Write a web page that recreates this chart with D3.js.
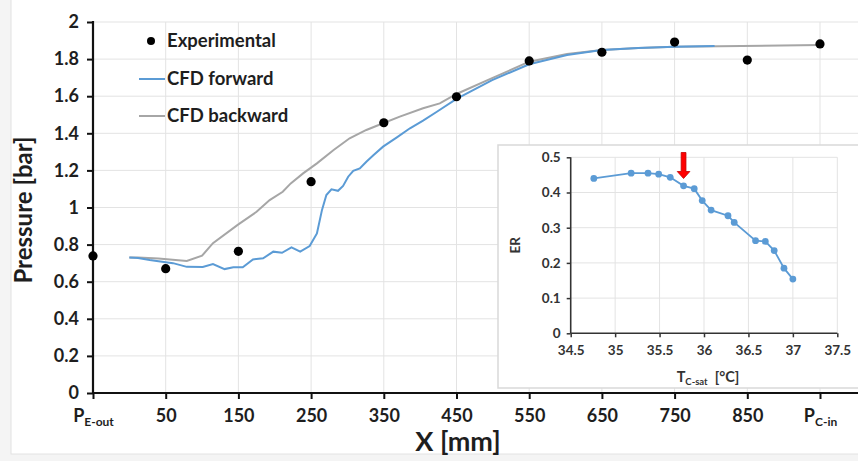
<!DOCTYPE html>
<html><head><meta charset="utf-8">
<script src="https://cdn.jsdelivr.net/npm/d3@7"></script>
<style>
html,body{margin:0;padding:0;background:#f4f4f4;}
svg{display:block;font-family:Lato,"Open Sans",sans-serif;font-weight:bold;}
</style></head>
<body>
<svg id="c" width="858" height="461"></svg>
<script>
// ---- data ----
const xTicks = [-50, 50, 150, 250, 350, 450, 550, 650, 750, 850, 950];
const yTicks = [0, 0.2, 0.4, 0.6, 0.8, 1, 1.2, 1.4, 1.6, 1.8, 2];
const expX = [-50, 50, 150, 250, 350, 450, 550, 650, 750, 850, 950];
const expY = [0.739, 0.67, 0.764, 1.139, 1.457, 1.597, 1.79, 1.837, 1.892, 1.795, 1.882];
const fwdX = [0, 12, 28, 45, 60, 79, 101, 115, 131, 143, 156, 170, 184, 198, 210, 223, 235, 248, 258, 265, 271, 278, 287, 294, 301, 308, 317, 326, 336, 349, 368, 386, 404, 423, 450, 499, 550, 602, 650, 700, 750, 805];
const fwdY = [0.73, 0.728, 0.717, 0.708, 0.70, 0.68, 0.679, 0.695, 0.668, 0.678, 0.678, 0.72, 0.726, 0.762, 0.756, 0.785, 0.762, 0.792, 0.86, 0.987, 1.067, 1.098, 1.09, 1.116, 1.166, 1.198, 1.211, 1.247, 1.283, 1.328, 1.378, 1.427, 1.468, 1.516, 1.585, 1.687, 1.772, 1.822, 1.849, 1.86, 1.867, 1.87];
const bwdX = [0, 12, 40, 79, 100, 115, 149, 175, 193, 211, 222, 239, 258, 281, 303, 326, 349, 372, 404, 427, 450, 499, 550, 602, 650, 700, 750, 950];
const bwdY = [0.731, 0.73, 0.725, 0.712, 0.74, 0.808, 0.906, 0.977, 1.04, 1.085, 1.13, 1.184, 1.238, 1.31, 1.373, 1.418, 1.454, 1.49, 1.535, 1.561, 1.612, 1.697, 1.786, 1.827, 1.849, 1.86, 1.867, 1.876];
const insetXTicks = [34.5, 35, 35.5, 36, 36.5, 37, 37.5];
const insetYTicks = [0, 0.1, 0.2, 0.3, 0.4, 0.5];
const erT = [34.76, 35.18, 35.37, 35.49, 35.62, 35.77, 35.89, 35.98, 36.08, 36.27, 36.34, 36.58, 36.69, 36.79, 36.90, 37.0];
const erV = [0.440, 0.455, 0.455, 0.452, 0.443, 0.419, 0.411, 0.377, 0.350, 0.334, 0.315, 0.263, 0.261, 0.235, 0.185, 0.154];
const arrowT = 35.77;
const legendLabels = ["Experimental", "CFD forward", "CFD backward"];

// ---- drawing ----
const svg = d3.select("#c");
const txt = "#1e1e1e";
const blue = "#5B9BD5", gray = "#A6A6A6", grid = "#e3e3e3";

svg.append("rect").attr("x", 11).attr("y", -1).attr("width", 860).attr("height", 455)
  .attr("fill", "#fff").attr("stroke", "#e2e2e2");

const x = d3.scaleLinear().domain([-50, 950]).range([93, 820]);
const y = d3.scaleLinear().domain([0, 2]).range([393, 22]);
const rightEdge = 870;

// gridlines
svg.append("g").selectAll("line").data(yTicks.filter(d => d > 0)).join("line")
  .attr("x1", x(-50)).attr("x2", rightEdge).attr("y1", d => y(d)).attr("y2", d => y(d))
  .attr("stroke", grid).attr("stroke-width", 1);
svg.append("g").selectAll("line").data(xTicks.filter(d => d > -50)).join("line")
  .attr("x1", d => x(d)).attr("x2", d => x(d)).attr("y1", y(0)).attr("y2", y(2))
  .attr("stroke", grid).attr("stroke-width", 1);

// axes
const yAxis = svg.append("g").attr("transform", `translate(${x(-50)},0)`)
  .call(d3.axisLeft(y).tickValues(yTicks).tickSize(6).tickPadding(8).tickFormat(d => d3.format("~g")(d)));
const xAxis = svg.append("g").attr("transform", `translate(0,${y(0)})`)
  .call(d3.axisBottom(x).tickValues(xTicks).tickSize(6).tickPadding(10).tickFormat(d => d));
[yAxis, xAxis].forEach(g => {
  g.select(".domain").remove();
  g.selectAll(".tick line").attr("stroke", "#111").attr("stroke-width", 2);
  g.selectAll("text").attr("fill", txt).attr("font-size", 18).attr("font-family", "Lato").attr("font-weight", "bold");
});
xAxis.selectAll(".tick text").each(function(d) {
  const t = d3.select(this);
  if (d === -50 || d === 950) {
    t.text(null);
    t.append("tspan").text("P");
    t.append("tspan").attr("font-size", 12).attr("dy", 4).text(d === -50 ? "E-out" : "C-in");
  }
});
svg.append("line").attr("x1", x(-50)).attr("x2", x(-50)).attr("y1", y(2) - 1).attr("y2", y(0) + 1)
  .attr("stroke", "#111").attr("stroke-width", 2.2);
svg.append("line").attr("x1", x(-50) - 1).attr("x2", rightEdge).attr("y1", y(0)).attr("y2", y(0))
  .attr("stroke", "#111").attr("stroke-width", 2.2);

// axis titles
svg.append("text").attr("x", 458).attr("y", 451).attr("text-anchor", "middle")
  .attr("font-size", 27).attr("fill", txt).text("X [mm]");
svg.append("text").attr("transform", "translate(32,210) rotate(-90)").attr("text-anchor", "middle")
  .attr("font-size", 24).attr("fill", txt).text("Pressure [bar]");

// lines
const line = d3.line().x(d => x(d[0])).y(d => y(d[1]));
svg.append("path").datum(bwdX.map((v, i) => [v, bwdY[i]])).attr("d", line)
  .attr("fill", "none").attr("stroke", gray).attr("stroke-width", 2);
svg.append("path").datum(fwdX.map((v, i) => [v, fwdY[i]])).attr("d", line)
  .attr("fill", "none").attr("stroke", blue).attr("stroke-width", 2);

// experimental
svg.append("g").selectAll("circle").data(expX.map((v, i) => [v, expY[i]])).join("circle")
  .attr("cx", d => x(d[0])).attr("cy", d => y(d[1])).attr("r", 4.6).attr("fill", "#000");

// legend
const lg = svg.append("g");
lg.append("circle").attr("cx", 151).attr("cy", 41).attr("r", 4).attr("fill", "#000");
lg.append("line").attr("x1", 139).attr("x2", 165).attr("y1", 79).attr("y2", 79).attr("stroke", blue).attr("stroke-width", 2);
lg.append("line").attr("x1", 139).attr("x2", 165).attr("y1", 116).attr("y2", 116).attr("stroke", gray).attr("stroke-width", 2);
legendLabels.forEach((l, i) => {
  lg.append("text").attr("x", 167).attr("y", [41, 79, 116][i]).attr("dy", "0.35em")
    .attr("font-size", 18.5).attr("fill", txt).text(l);
});

// ---- inset ----
const ix = d3.scaleLinear().domain([34.5, 37.5]).range([570.7, 837.3]);
const iy = d3.scaleLinear().domain([0, 0.5]).range([333.3, 157.3]);
svg.append("rect").attr("x", 498).attr("y", 145).attr("width", 380).attr("height", 243)
  .attr("fill", "#fff").attr("stroke", "#d9d9d9").attr("stroke-width", 1.5);
svg.append("g").selectAll("line").data(insetYTicks.filter(d => d > 0)).join("line")
  .attr("x1", ix(34.5)).attr("x2", ix(37.5)).attr("y1", d => iy(d)).attr("y2", d => iy(d))
  .attr("stroke", grid);
svg.append("g").selectAll("line").data(insetXTicks.filter(d => d > 34.5)).join("line")
  .attr("x1", d => ix(d)).attr("x2", d => ix(d)).attr("y1", iy(0)).attr("y2", iy(0.5))
  .attr("stroke", grid);
const iya = svg.append("g").attr("transform", `translate(${ix(34.5)},0)`)
  .call(d3.axisLeft(iy).tickValues(insetYTicks).tickSize(4).tickPadding(6).tickFormat(d => d3.format("~g")(d)));
const ixa = svg.append("g").attr("transform", `translate(0,${iy(0)})`)
  .call(d3.axisBottom(ix).tickValues(insetXTicks).tickSize(4).tickPadding(8).tickFormat(d => d3.format("~g")(d)));
[iya, ixa].forEach(g => {
  g.select(".domain").attr("stroke", "#333").attr("stroke-width", 1.6);
  g.selectAll(".tick line").attr("stroke", "#333").attr("stroke-width", 1.5);
  g.selectAll("text").attr("fill", "#333").attr("font-size", 13.5).attr("font-family", "Lato").attr("font-weight", "bold");
});
iya.select(".domain").attr("d", `M0,${iy(0)}V${iy(0.5)}`);
ixa.select(".domain").attr("d", `M${ix(34.5)},0H${ix(37.5)}`);
svg.append("text").attr("transform", `translate(520,${(iy(0) + iy(0.5)) / 2}) rotate(-90)`)
  .attr("text-anchor", "middle").attr("font-size", 13.5).attr("fill", "#333").text("ER");
const tl = svg.append("text").attr("x", 708).attr("y", 382).attr("text-anchor", "middle")
  .attr("font-size", 14.5).attr("fill", "#333");
tl.append("tspan").text("T");
tl.append("tspan").attr("font-size", 9.5).attr("dy", 3).text("C-sat");
tl.append("tspan").attr("dy", -3).attr("dx", 7).text("[°C]");

const iline = d3.line().x(d => ix(d[0])).y(d => iy(d[1]));
const erData = erT.map((v, i) => [v, erV[i]]);
svg.append("path").datum(erData).attr("d", iline).attr("fill", "none").attr("stroke", blue).attr("stroke-width", 1.8);
svg.append("g").selectAll("circle").data(erData).join("circle")
  .attr("cx", d => ix(d[0])).attr("cy", d => iy(d[1])).attr("r", 3.4).attr("fill", blue);

// arrow
const ax = ix(arrowT), arTop = 152.5, arTip = 178.5;
svg.append("path")
  .attr("d", `M${ax - 2.4},${arTop}H${ax + 2.4}V${arTip - 7}H${ax + 6.3}L${ax},${arTip}L${ax - 6.3},${arTip - 7}H${ax - 2.4}Z`)
  .attr("fill", "#ff0000").attr("stroke", "#c00000").attr("stroke-width", 0.8);
</script>
</body></html>
